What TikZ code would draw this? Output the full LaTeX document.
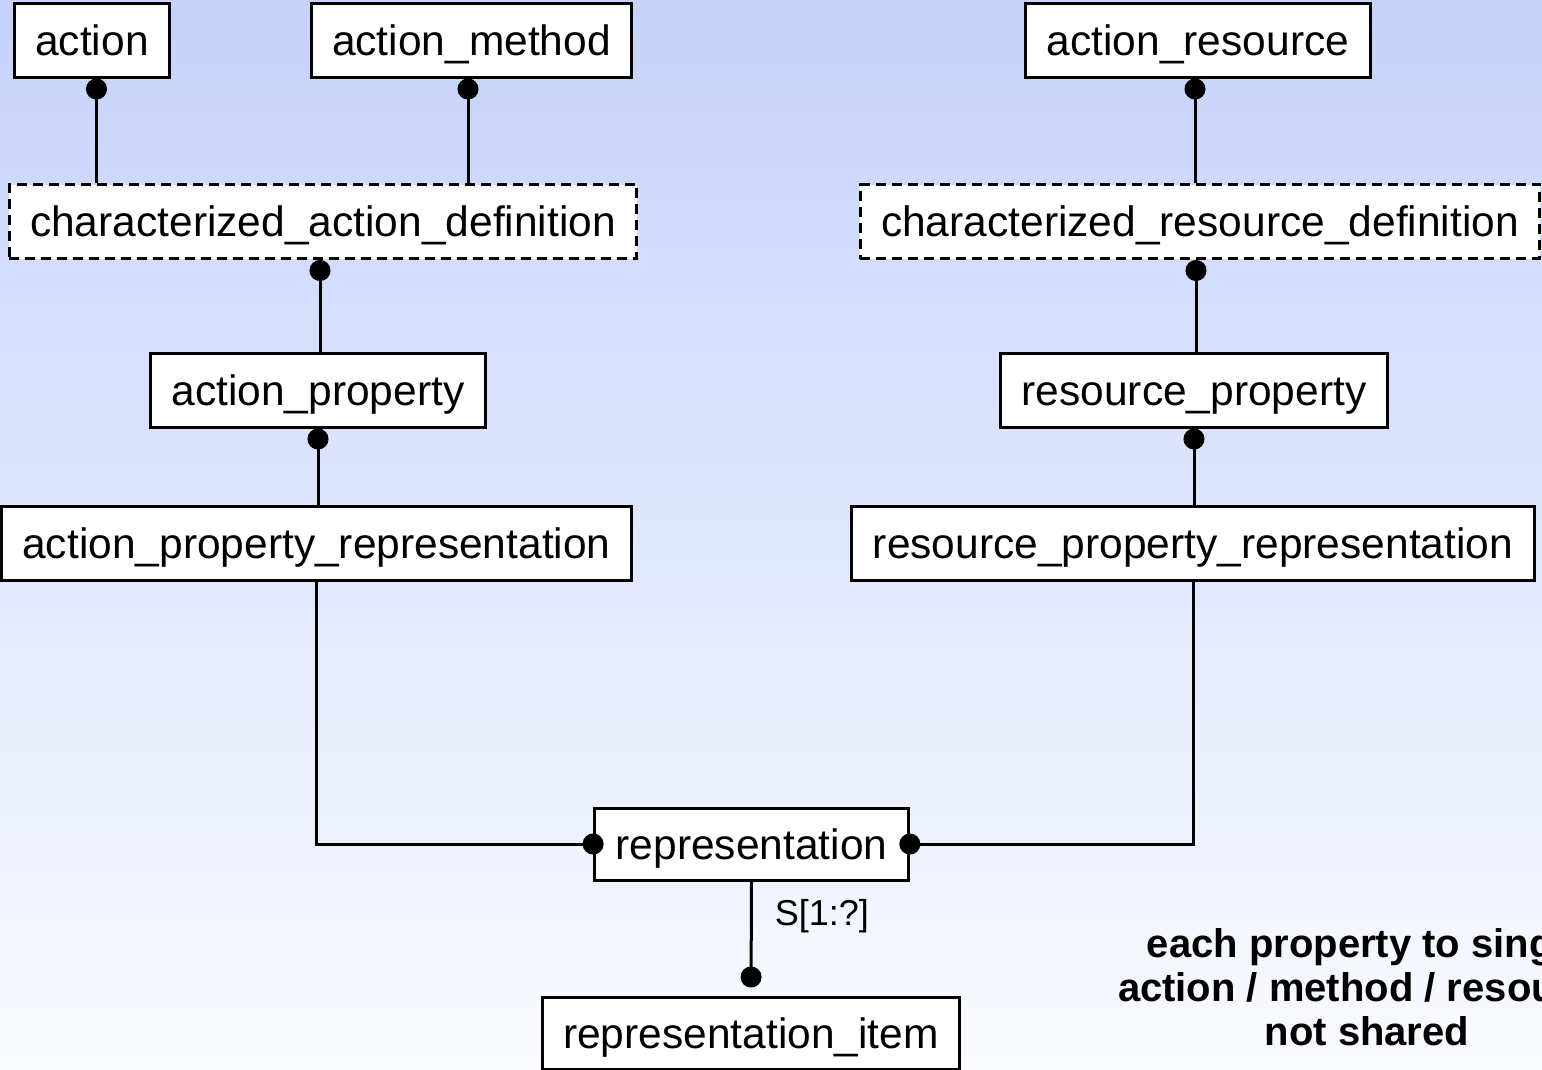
\documentclass[tikz,border=0pt]{standalone}
\usepackage{fontspec}
\setmainfont{Liberation Sans}
\usepackage{xcolor}
\usetikzlibrary{arrows.meta}
\definecolor{bgtop}{RGB}{198,210,250}
\definecolor{bgbot}{RGB}{250,251,255}

\begin{document}
\begin{tikzpicture}[x=1pt,y=-1pt,
  entity/.style={draw, line width=3pt, fill=white, minimum height=74pt,
    inner xsep=21pt, inner ysep=0pt, font=\fontsize{42.5}{50}\selectfont,
    text height=30pt, text depth=0pt},
  selectbox/.style={entity, dash pattern=on 10pt off 6pt},
  link/.style={line width=3pt},
  dotend/.style={link, -{Circle[length=21pt,width=21pt]}},
  dotstart/.style={link, {Circle[length=21pt,width=21pt]}-},
  note/.style={font=\fontsize{40}{44}\selectfont\bfseries, align=center, inner sep=0pt}]
 \useasboundingbox (0,0) rectangle (1542,1069);
 \clip (0,0) rectangle (1542,1069);
 \shade[top color=bgtop, bottom color=bgbot] (0,0) rectangle (1542,1069);
 % top row
 \node[entity] (act) at (92,40) {action};
 \node[entity] (actm) at (471.5,40) {action\_method};
 \node[entity] (actr) at (1198,40) {action\_resource};
 % select types
 \node[selectbox] (cad) at (323,221.5) {characterized\_action\_definition};
 \node[selectbox] (crd) at (1200,221.5) {characterized\_resource\_definition};
 % properties
 \node[entity] (ap) at (318,390) {action\_property};
 \node[entity] (rp) at (1194,390) {resource\_property};
 \node[entity] (apr) at (316.5,543.5) {action\_property\_representation};
 \node[entity] (rpr) at (1193,543.5) {resource\_property\_representation};
 % representation
 \node[entity, minimum height=72pt] (rep) at (751.5,844) {representation};
 \node[entity, minimum height=72pt] (repi) at (751,1033) {representation\_item};
 \node[note, anchor=north] (cmt) at (1367,928)
  {each property to single\\action / method / resource\\not shared};
 % links
 \draw[dotstart] ([xshift=4.5pt]act.south) -- ([xshift=4.5pt]act.south |- cad.north);
 \draw[dotstart] ([xshift=-3.5pt]actm.south) -- ([xshift=-3.5pt]actm.south |- cad.north);
 \draw[dotstart] ([xshift=-3pt]actr.south) -- ([xshift=-3pt]actr.south |- crd.north);
 \draw[dotstart] ([xshift=2pt]cad.south -| ap.north) -- ([xshift=2pt]ap.north);
 \draw[dotstart] ([xshift=2pt]crd.south -| rp.north) -- ([xshift=2pt]rp.north);
 \draw[dotstart] (ap.south) -- (ap.south |- apr.north);
 \draw[dotstart] (rp.south) -- (rp.south |- rpr.north);
 \draw[dotend, shorten >=-10.5pt] (apr.south) |- (rep.west);
 \draw[dotend, shorten >=-10.5pt] (rpr.south) |- (rep.east);
 \draw[dotend, shorten >=8pt] (rep.south) -- (repi.north)
  node[pos=0.3, anchor=west, xshift=22pt, inner sep=0pt,
   font=\fontsize{36}{40}\selectfont] (card) {S[1:?]};
\end{tikzpicture}
\end{document}
